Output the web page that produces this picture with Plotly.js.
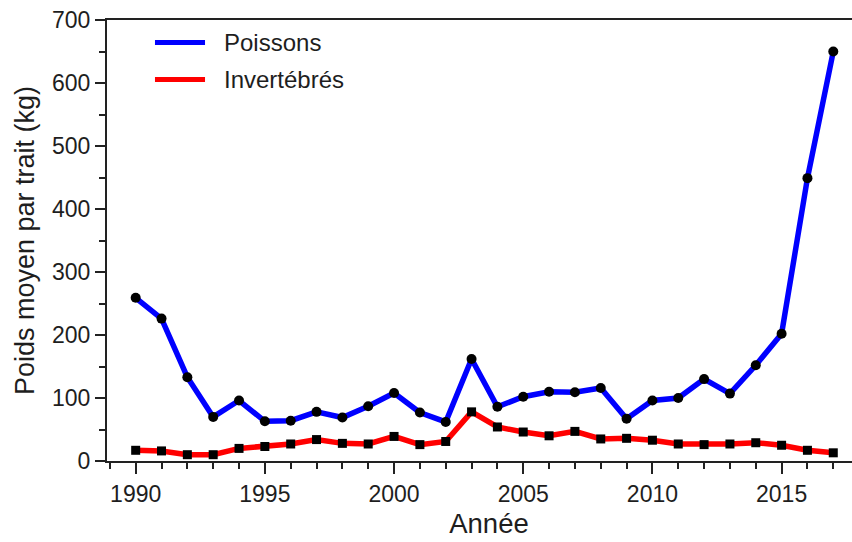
<!DOCTYPE html>
<html>
<head>
<meta charset="utf-8">
<script src="https://cdn.plot.ly/plotly-3.0.1.min.js"></script>
<style>
  html, body { margin: 0; padding: 0; background: #fff; overflow: hidden; }
  #chart { width: 872px; height: 542px; }
</style>
</head>
<body>
<div id="chart"></div>
<script>
// Poids moyen par trait (kg), 1990-2017
const years = [1990, 1991, 1992, 1993, 1994, 1995, 1996, 1997, 1998, 1999,
               2000, 2001, 2002, 2003, 2004, 2005, 2006, 2007, 2008, 2009,
               2010, 2011, 2012, 2013, 2014, 2015, 2016, 2017];
const poissons = [259, 226, 133, 70, 96, 63, 64, 78, 69, 87,
                  108, 77, 62, 162, 86, 102, 110, 109, 116, 67,
                  96, 100, 130, 107, 152, 202, 449, 650];
const invertebres = [17, 16, 10, 10, 20, 23, 27, 34, 28, 27,
                     39, 26, 31, 78, 54, 46, 40, 47, 35, 36,
                     33, 27, 26, 27, 29, 25, 17, 13];
const seriesNames = ['Poissons', 'Invertébrés'];
const xTicks = [1990, 1995, 2000, 2005, 2010, 2015];

const FONT = 'Arial, "Liberation Sans", sans-serif';
const INK = '#1e1e1e';

const traces = [
  { x: years, y: poissons, name: seriesNames[0], type: 'scatter', mode: 'lines+markers',
    line: { color: '#0000ff', width: 5.5 },
    marker: { color: '#000', size: 10, symbol: 'circle' }, showlegend: false },
  { x: years, y: invertebres, name: seriesNames[1], type: 'scatter', mode: 'lines+markers',
    line: { color: '#ff0000', width: 5.5 },
    marker: { color: '#000', size: 9, symbol: 'square' }, showlegend: false }
];

// key drawn inside the plot, upper left (paper fractions of a 764 px wide plot area)
const legendRows = [
  { name: seriesNames[0], color: '#0000ff', y: 0.949 },
  { name: seriesNames[1], color: '#ff0000', y: 0.865 }
];
const shapes = legendRows.map(r => ({
  type: 'line', xref: 'paper', yref: 'paper', x0: 0.0628, x1: 0.1283, y0: r.y, y1: r.y,
  line: { color: r.color, width: 5 }, layer: 'above'
}));
const annotations = legendRows.map(r => ({
  xref: 'paper', yref: 'paper', x: 0.1505, y: r.y, xanchor: 'left', yanchor: 'middle',
  text: r.name, showarrow: false, font: { family: FONT, size: 24, color: INK }
}));

const layout = {
  width: 872, height: 542,
  margin: { l: 107, r: 1, t: 20, b: 81 },
  paper_bgcolor: '#fff', plot_bgcolor: '#fff',
  showlegend: false,
  font: { family: FONT, color: INK },
  xaxis: {
    range: [1988.89, 2018.46], tickvals: xTicks, ticktext: xTicks.map(String),
    showgrid: false, zeroline: false,
    showline: true, linecolor: '#222', linewidth: 2, mirror: true,
    ticks: 'outside', ticklen: 11, tickwidth: 2, tickcolor: '#222',
    minor: { dtick: 1, tick0: 1990, ticks: 'outside', ticklen: 6, tickwidth: 2, tickcolor: '#222' },
    tickfont: { family: FONT, size: 23, color: INK },
    title: { text: 'Année', font: { family: FONT, size: 27.5, color: INK }, standoff: 8 }
  },
  yaxis: {
    range: [0, 700], dtick: 100, tick0: 0,
    showgrid: false, zeroline: false,
    showline: true, linecolor: '#222', linewidth: 2, mirror: true,
    ticks: 'outside', ticklen: 10, tickwidth: 2, tickcolor: '#222',
    minor: { dtick: 50, ticks: 'outside', ticklen: 6, tickwidth: 2, tickcolor: '#222' },
    tickfont: { family: FONT, size: 23, color: INK },
    title: { text: 'Poids moyen par trait (kg)', font: { family: FONT, size: 27, color: INK }, standoff: 10 }
  },
  shapes: shapes,
  annotations: annotations
};

Plotly.newPlot('chart', traces, layout, { displayModeBar: false, staticPlot: true });
</script>
</body>
</html>
